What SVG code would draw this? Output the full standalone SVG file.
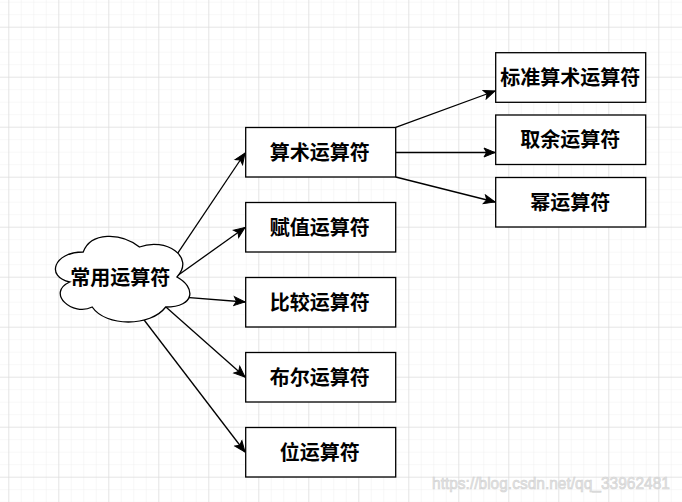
<svg xmlns="http://www.w3.org/2000/svg" width="682" height="502" viewBox="0 0 682 502">
<style>
.box{fill:#ffffff;stroke:#000000;stroke-width:1.3}
.lbl{font-family:"Noto Sans CJK SC","Noto Sans",sans-serif;font-size:20px;font-weight:bold;fill:#000000;text-anchor:middle;dominant-baseline:central}
.edge{fill:none;stroke:#000000;stroke-width:1.3;marker-end:url(#arrow)}
.wm{font-family:"Liberation Sans",Arial,sans-serif;font-size:17px;fill:#e4e4e4;stroke:#d2d2d2;stroke-width:0.6}
</style>
<defs>
<pattern id="minor" patternUnits="userSpaceOnUse" x="8.3" y="26.7" width="12.5" height="12.5">
<path d="M0,0 H12.5 M0,0 V12.5" stroke="#efefef" stroke-width="1" fill="none"/>
</pattern>
<pattern id="major" patternUnits="userSpaceOnUse" x="8.3" y="26.7" width="50" height="50">
<path d="M0,0 H50 M0,0 V50" stroke="#d6d6d6" stroke-width="1" fill="none"/>
</pattern>
<marker id="arrow" markerUnits="userSpaceOnUse" markerWidth="14" markerHeight="12" viewBox="0 0 14 12" refX="12" refY="6" orient="auto">
<path d="M1,1.5 L12,6 L1,10.5 L3.5,6 Z" fill="#000000" stroke="#000000" stroke-width="1"/>
</marker>
</defs>
<rect width="682" height="502" fill="#ffffff"/>
<rect width="682" height="502" fill="url(#minor)"/>
<rect width="682" height="502" fill="url(#major)"/>
<g id="connectors">
<line class="edge" x1="171.8" y1="262" x2="245" y2="153"/>
<line class="edge" x1="170" y1="281" x2="245" y2="227.5"/>
<line class="edge" x1="180" y1="296.8" x2="245" y2="302"/>
<line class="edge" x1="158" y1="300" x2="245" y2="377"/>
<line class="edge" x1="138" y1="312" x2="245" y2="452"/>
<line class="edge" x1="395.7" y1="127.3" x2="495" y2="91"/>
<line class="edge" x1="395.7" y1="152.5" x2="495" y2="152.5"/>
<line class="edge" x1="395.7" y1="177" x2="495" y2="202"/>
</g>
<g id="cloud">
<path class="box" d="M83.2,252 C53.2,252 45.7,277 69.7,282 C45.7,293 72.7,317 92.2,307 C105.7,327 150.7,327 165.7,307 C195.7,307 195.7,287 176.95,277 C195.7,257 165.7,237 139.45,247 C120.7,232 90.7,232 83.2,252 Z"/>
<text class="lbl" x="120.2" y="276">常用运算符</text>
</g>
<g id="n-suanshu"><rect class="box" x="245.7" y="127.5" width="150" height="49.5"/><text class="lbl" x="319.7" y="151.3">算术运算符</text></g>
<g id="n-fuzhi"><rect class="box" x="245.7" y="202.5" width="150" height="49.5"/><text class="lbl" x="319.7" y="226.3">赋值运算符</text></g>
<g id="n-bijiao"><rect class="box" x="245.7" y="277.5" width="150" height="49.5"/><text class="lbl" x="319.7" y="301.3">比较运算符</text></g>
<g id="n-buer"><rect class="box" x="245.7" y="352.5" width="150" height="49.5"/><text class="lbl" x="319.7" y="376.3">布尔运算符</text></g>
<g id="n-wei"><rect class="box" x="245.7" y="427.5" width="150" height="49.5"/><text class="lbl" x="319.7" y="451.3">位运算符</text></g>
<g id="n-biaozhun"><rect class="box" x="495.7" y="52.7" width="150" height="49.6"/><text class="lbl" x="570.2" y="76.5">标准算术运算符</text></g>
<g id="n-quyu"><rect class="box" x="495.7" y="115" width="150" height="49.5"/><text class="lbl" x="570.2" y="138.8">取余运算符</text></g>
<g id="n-mi"><rect class="box" x="495.7" y="177.5" width="150" height="49.5"/><text class="lbl" x="570.2" y="201.3">幂运算符</text></g>
<text class="wm" x="432" y="489" textLength="238" lengthAdjust="spacingAndGlyphs">https://blog.csdn.net/qq_33962481</text>
</svg>
